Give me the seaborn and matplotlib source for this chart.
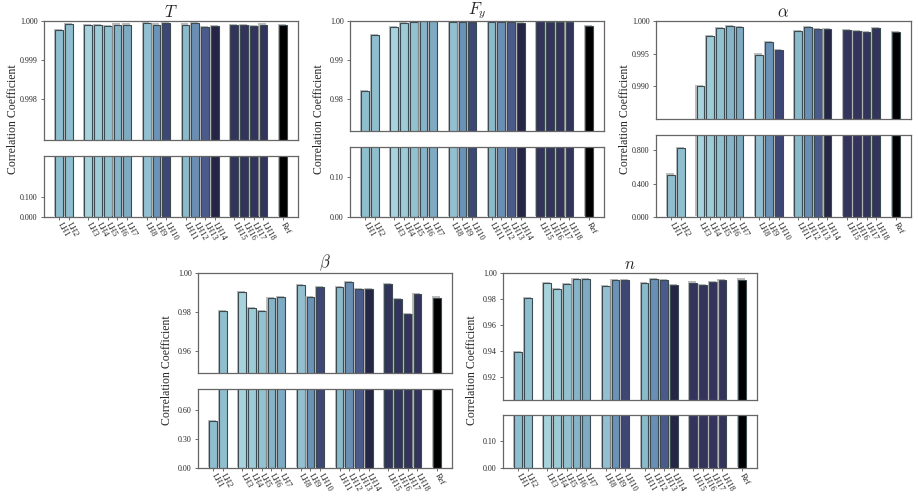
import numpy as np
import pandas as pd
import matplotlib
matplotlib.use("Agg")
import matplotlib.pyplot as plt
import matplotlib.patheffects as pe
import seaborn as sns

sns.set_style("white")
plt.rcParams['font.family'] = ['Liberation Serif', 'DejaVu Serif']
plt.rcParams['mathtext.fontset'] = 'cm'

# ---- data ----
labels = ["LH1", "LH2", "LH3", "LH4", "LH5", "LH6", "LH7", "LH8", "LH9", "LH10",
          "LH11", "LH12", "LH13", "LH14", "LH15", "LH16", "LH17", "LH18", "Ref"]
group_sizes = [2, 5, 3, 4, 4, 1]

colors = ["#8fbfcf", "#8fbfcf", "#a9d3dc", "#9dcbd6", "#92c2d0", "#86b4c8", "#7eaac2",
          "#93c0d0", "#6b93b8", "#3e4674", "#8bbacb", "#6a8fb5", "#4a5b8b", "#252546",
          "#33335c", "#33335c", "#33335c", "#33335c", "#000000"]

T_vals = [0.99976, 0.99993, 0.99990, 0.99990, 0.99987, 0.99991, 0.99991, 0.99994, 0.99991,
          0.99994, 0.99991, 0.99994, 0.99985, 0.99987, 0.99990, 0.99990, 0.99987, 0.99991, 0.99990]
Fy_vals = [0.98213, 0.99634, 0.99855, 0.99957, 0.99974, 0.99990, 0.99998, 0.99966, 0.99980,
           0.99970, 0.99966, 0.99980, 0.99980, 0.99957, 0.99990, 0.99970, 0.99966, 0.99970, 0.99881]
alpha_vals = [0.51, 0.83, 0.99010, 0.99764, 0.99887, 0.99918, 0.99913, 0.99487, 0.99682,
              0.99549, 0.99841, 0.99913, 0.99872, 0.99877, 0.99856, 0.99841, 0.99826, 0.99887, 0.99836]
beta_vals = [0.485, 0.9805, 0.9903, 0.9822, 0.9805, 0.9872, 0.9877, 0.99385, 0.9877, 0.9928,
             0.9928, 0.9954, 0.9916, 0.9918, 0.9942, 0.9868, 0.9791, 0.9894, 0.9874]
n_vals = [0.9387, 0.9808, 0.9921, 0.9877, 0.9915, 0.9951, 0.9954, 0.9898, 0.9946, 0.9944,
          0.9921, 0.9954, 0.9944, 0.9905, 0.9926, 0.9910, 0.9928, 0.9944, 0.9949]

# per panel: title, values, top ylim, top ticks, bottom ylim, bottom ticks, tick format
panels = [
    ("$T$", T_vals, (0.99696, 1.0), [0.998, 0.999, 1.000], (0, 0.303), [0, 0.1], "{:.3f}"),
    ("$F_y$", Fy_vals, (0.9719, 1.0), [0.98, 0.99, 1.00], (0, 0.1765), [0, 0.1], "{:.2f}"),
    (r"$\alpha$", alpha_vals, (0.985, 1.0), [0.990, 0.995, 1.000], (0, 0.985), [0, 0.4, 0.8], "{:.3f}"),
    (r"$\beta$", beta_vals, (0.9487, 1.0), [0.96, 0.98, 1.00], (0, 0.814), [0, 0.3, 0.6], "{:.2f}"),
    ("$n$", n_vals, (0.902, 1.0), [0.92, 0.94, 0.96, 0.98, 1.00], (0, 0.199), [0, 0.1], "{:.2f}"),
]

# pixel boxes: left, right, top-axes top, top-axes bottom, bottom-axes top, bottom-axes bottom
boxes = [
    (44, 298, 21, 140, 156, 217),
    (350, 604, 21, 131, 147, 217),
    (656, 911, 21, 119, 135, 217),
    (198, 452, 273, 373, 389, 468),
    (503, 757, 273, 400, 415, 468),
]

W, H = 918, 499

# x positions with a gap between groups
pos = []
p = 0
for g in group_sizes:
    for _ in range(g):
        pos.append(p)
        p += 1
    p += 1

palette = dict(zip(labels, colors))
shadow = [pe.SimplePatchShadow(offset=(-0.8, 0.8), shadow_rgbFace="#a0a0a0", alpha=0.7), pe.Normal()]


def to_rect(l, r, t, b):
    return [l / W, 1 - b / H, (r - l) / W, (b - t) / H]


def draw_bars(ax, vals):
    df = pd.DataFrame({"pos": pos, "val": vals, "label": labels})
    sns.barplot(data=df, x="pos", y="val", hue="label", palette=palette, native_scale=True,
                dodge=False, legend=False, width=0.8, edgecolor="#3c4a52", linewidth=0.8,
                saturation=1, ax=ax)
    for patch in ax.patches:
        patch.set_path_effects(shadow)
    ax.set_xlim(-1.55, pos[-1] + 1.55)
    ax.set_xlabel("")
    ax.set_ylabel("")
    for s in ax.spines.values():
        s.set_color("#666666")
        s.set_linewidth(0.9)
    ax.tick_params(axis="y", direction="out", length=2.5, width=0.6, color="#555555",
                   labelsize=5.8, pad=2, left=True)


fig = plt.figure(figsize=(W / 100, H / 100), dpi=100)

for (title, vals, ylim_t, ticks_t, ylim_b, ticks_b, fmt), (l, r, t1, b1, t2, b2) in zip(panels, boxes):
    ax_top = fig.add_axes(to_rect(l, r, t1, b1))
    ax_bot = fig.add_axes(to_rect(l, r, t2, b2))

    draw_bars(ax_top, vals)
    ax_top.set_ylim(*ylim_t)
    ax_top.set_yticks(ticks_t)
    ax_top.set_yticklabels([fmt.format(v) for v in ticks_t])
    ax_top.set_xticks([])
    ax_top.set_title(title, fontsize=12, pad=3)

    draw_bars(ax_bot, vals)
    ax_bot.set_ylim(*ylim_b)
    ax_bot.set_yticks(ticks_b)
    ax_bot.set_yticklabels([fmt.format(v) for v in ticks_b])
    ax_bot.set_xticks(pos)
    ax_bot.set_xticklabels(labels, rotation=-60, ha="left", va="center",
                           rotation_mode="anchor", fontsize=6)
    ax_bot.tick_params(axis="x", direction="out", length=2.5, width=0.6, color="#555555",
                       pad=2, bottom=True)

    fig.text((l - 31) / W, 1 - ((t1 + b2) / 2) / H, "Correlation Coefficient",
             rotation=90, ha="center", va="center", fontsize=8.5)

fig.savefig("out.png", dpi=100)
